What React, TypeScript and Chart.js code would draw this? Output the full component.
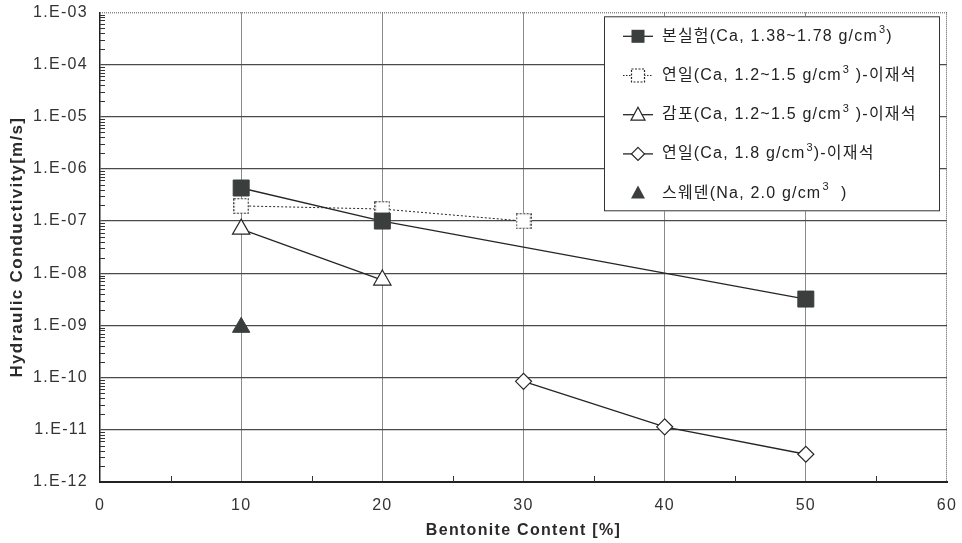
import React, { useEffect, useRef } from 'react';
import { Chart, registerables } from 'chart.js';

Chart.register(...registerables);

// ---- data ----
const xTickValues = [0, 10, 20, 30, 40, 50, 60];
const xMinorTicks = [5, 15, 25, 35, 45, 55];
const yDecades = [1e-12, 1e-11, 1e-10, 1e-9, 1e-8, 1e-7, 1e-6, 1e-5, 1e-4, 1e-3];
const yMinorMultipliers = [2, 3, 4, 5, 6, 7, 8, 9];

const s1X = [10, 20, 50];
const s1Y = [4.3e-7, 1.0e-7, 3.2e-9];
const s2X = [10, 20, 30];
const s2Y = [1.95e-7, 1.7e-7, 1.0e-7];
const s3X = [10, 20];
const s3Y = [7.0e-8, 7.4e-9];
const s4X = [30, 40, 50];
const s4Y = [8.5e-11, 1.14e-11, 3.4e-12];
const s5X = [10];
const s5Y = [9.2e-10];

const legendMain = [
  '본실험(Ca, 1.38~1.78 g/cm',
  '연일(Ca, 1.2~1.5 g/cm',
  '감포(Ca, 1.2~1.5 g/cm',
  '연일(Ca, 1.8 g/cm',
  '스웨덴(Na, 2.0 g/cm',
];
const legendSup = ['3', '3', '3', '3', '3'];
const legendTail = [')', ' )-이재석', ' )-이재석', ')-이재석', '  )'];

const xTitle = 'Bentonite Content [%]';
const yTitle = 'Hydraulic Conductivity[m/s]';

const INK = '#262626';
const FILL = '#3a3e3d';
const TICK_FONT_FAMILY = '"Liberation Sans", Arial, sans-serif';
const LEGEND_FONT = '"Liberation Sans", "Noto Sans CJK KR", sans-serif';
const SPACING = '1.3px';

const pts = (xs: number[], ys: number[]) => xs.map((x, i) => ({ x, y: ys[i] }));

function makeDashedSquare(size: number): HTMLCanvasElement {
  const c = document.createElement('canvas');
  c.width = size;
  c.height = size;
  const g = c.getContext('2d')!;
  g.fillStyle = '#ffffff';
  g.fillRect(0, 0, size, size);
  g.strokeStyle = INK;
  g.lineWidth = 1.2;
  g.setLineDash([2, 1.5]);
  g.strokeRect(0.75, 0.75, size - 1.5, size - 1.5);
  return c;
}

function drawMarker(ctx: CanvasRenderingContext2D, kind: number, cx: number, cy: number) {
  ctx.save();
  ctx.strokeStyle = INK;
  ctx.lineWidth = 1.2;
  if (kind === 0) {
    ctx.fillStyle = FILL;
    ctx.fillRect(cx - 6.5, cy - 6.5, 13, 13);
  } else if (kind === 1) {
    ctx.fillStyle = '#fff';
    ctx.fillRect(cx - 6.5, cy - 6.5, 13, 13);
    ctx.setLineDash([2, 1.5]);
    ctx.strokeRect(cx - 6.5, cy - 6.5, 13, 13);
  } else if (kind === 2 || kind === 4) {
    ctx.beginPath();
    ctx.moveTo(cx, cy - 7.5);
    ctx.lineTo(cx + 7, cy + 5.5);
    ctx.lineTo(cx - 7, cy + 5.5);
    ctx.closePath();
    ctx.fillStyle = kind === 4 ? FILL : '#fff';
    ctx.fill();
    if (kind === 2) ctx.stroke();
  } else if (kind === 3) {
    ctx.beginPath();
    ctx.moveTo(cx, cy - 6.5);
    ctx.lineTo(cx + 6.5, cy);
    ctx.lineTo(cx, cy + 6.5);
    ctx.lineTo(cx - 6.5, cy);
    ctx.closePath();
    ctx.fillStyle = '#fff';
    ctx.fill();
    ctx.stroke();
  }
  ctx.restore();
}

const spacingPlugin = {
  id: 'spacing',
  beforeLayout(chart: any) {
    (chart.ctx as any).letterSpacing = SPACING;
  },
  beforeDraw(chart: any) {
    (chart.ctx as any).letterSpacing = SPACING;
  },
};

const decorPlugin = {
  id: 'decor',
  beforeDatasetsDraw(chart: any) {
    const { ctx, chartArea: a, scales } = chart;
    const x = scales.x;
    const y = scales.y;
    ctx.save();
    ctx.strokeStyle = '#333';
    ctx.lineWidth = 1;
    ctx.beginPath();
    for (let i = 0; i < yDecades.length - 1; i++) {
      for (const k of yMinorMultipliers) {
        const py = Math.round(y.getPixelForValue(k * yDecades[i])) + 0.5;
        ctx.moveTo(a.left, py);
        ctx.lineTo(a.left + 5, py);
      }
    }
    for (const v of xMinorTicks) {
      const px = Math.round(x.getPixelForValue(v)) + 0.5;
      ctx.moveTo(px, a.bottom);
      ctx.lineTo(px, a.bottom - 6);
    }
    ctx.stroke();
    ctx.setLineDash([1, 1]);
    ctx.strokeStyle = '#555';
    ctx.beginPath();
    ctx.moveTo(a.left, a.top + 0.5);
    ctx.lineTo(a.right, a.top + 0.5);
    ctx.moveTo(a.right - 0.5, a.top);
    ctx.lineTo(a.right - 0.5, a.bottom);
    ctx.stroke();
    ctx.restore();
  },
  afterDraw(chart: any) {
    const { ctx, chartArea: a } = chart;
    const box = { left: a.left + 504, top: a.top + 4, right: a.right - 7, bottom: a.top + 199 };
    ctx.save();
    (ctx as any).letterSpacing = '1.2px';
    ctx.fillStyle = '#fff';
    ctx.fillRect(box.left, box.top, box.right - box.left, box.bottom - box.top);
    ctx.strokeStyle = '#333';
    ctx.lineWidth = 1;
    ctx.strokeRect(box.left + 0.5, box.top + 0.5, box.right - box.left - 1, box.bottom - box.top - 1);
    const lineX0 = box.left + 19;
    const lineX1 = box.left + 49;
    const textX = box.left + 58;
    for (let i = 0; i < legendMain.length; i++) {
      const cy = box.top + 20 + i * 39.2;
      if (i < 4) {
        ctx.save();
        ctx.strokeStyle = INK;
        ctx.lineWidth = i === 1 ? 1 : 1.3;
        if (i === 1) ctx.setLineDash([1.5, 1.5]);
        ctx.beginPath();
        ctx.moveTo(lineX0, cy);
        ctx.lineTo(lineX1, cy);
        ctx.stroke();
        ctx.restore();
      }
      drawMarker(ctx, i, (lineX0 + lineX1) / 2, cy);
      ctx.fillStyle = '#222';
      ctx.textBaseline = 'middle';
      ctx.textAlign = 'left';
      ctx.font = `16px ${LEGEND_FONT}`;
      let tx = textX;
      ctx.fillText(legendMain[i], tx, cy);
      tx += ctx.measureText(legendMain[i]).width + 1;
      ctx.font = `11px ${LEGEND_FONT}`;
      ctx.fillText(legendSup[i], tx, cy - 6);
      tx += ctx.measureText(legendSup[i]).width;
      ctx.font = `16px ${LEGEND_FONT}`;
      ctx.fillText(legendTail[i], tx, cy);
    }
    ctx.restore();
  },
};

export default function App() {
  const ref = useRef<HTMLCanvasElement | null>(null);

  useEffect(() => {
    document.body.style.margin = '0';
    const canvas = ref.current;
    if (!canvas) return;
    const dashedSquare = makeDashedSquare(16);

    const chart = new Chart(canvas, {
      type: 'line',
      data: {
        datasets: [
          {
            label: legendMain[0],
            data: pts(s1X, s1Y),
            borderColor: INK,
            borderWidth: 1.3,
            pointStyle: 'rect',
            pointRadius: 11.3,
            pointBackgroundColor: FILL,
            pointBorderColor: FILL,
            pointBorderWidth: 1,
            showLine: true,
          },
          {
            label: legendMain[1],
            data: pts(s2X, s2Y),
            borderColor: INK,
            borderWidth: 1,
            borderDash: [2, 2],
            pointStyle: dashedSquare as any,
            pointRadius: 8,
            showLine: true,
          },
          {
            label: legendMain[2],
            data: pts(s3X, s3Y),
            borderColor: INK,
            borderWidth: 1.3,
            pointStyle: 'triangle',
            pointRadius: 10,
            pointBackgroundColor: '#fff',
            pointBorderColor: INK,
            pointBorderWidth: 1.2,
            showLine: true,
          },
          {
            label: legendMain[3],
            data: pts(s4X, s4Y),
            borderColor: INK,
            borderWidth: 1.3,
            pointStyle: 'rectRot',
            pointRadius: 8,
            pointBackgroundColor: '#fff',
            pointBorderColor: INK,
            pointBorderWidth: 1.2,
            showLine: true,
          },
          {
            label: legendMain[4],
            data: pts(s5X, s5Y),
            borderColor: FILL,
            pointStyle: 'triangle',
            pointRadius: 10,
            pointBackgroundColor: FILL,
            pointBorderColor: FILL,
            pointBorderWidth: 1,
            showLine: false,
          },
        ],
      },
      options: {
        animation: false,
        responsive: false,
        maintainAspectRatio: false,
        layout: { padding: { top: 12, right: 15, left: 0, bottom: 0 } },
        plugins: {
          legend: { display: false },
          tooltip: { enabled: false },
        },
        scales: {
          x: {
            type: 'linear',
            min: 0,
            max: 60,
            afterFit: (s: any) => {
              s.height = 61;
              s.paddingLeft = 0;
              s.paddingRight = 0;
            },
            afterBuildTicks: (s: any) => {
              s.ticks = xTickValues.map((v) => ({ value: v }));
            },
            ticks: {
              color: '#333',
              padding: 14,
              font: { family: TICK_FONT_FAMILY, size: 16 },
              maxRotation: 0,
              autoSkip: false,
            },
            grid: {
              drawTicks: false,
              color: (c: any) =>
                c.tick && (c.tick.value === 0 || c.tick.value === 60) ? 'rgba(0,0,0,0)' : '#8a8a8a',
              lineWidth: 1,
            },
            border: { display: true, color: '#222', width: 2 },
            title: {
              display: true,
              text: xTitle,
              color: '#2a2a2a',
              font: { family: TICK_FONT_FAMILY, size: 16, weight: 'bold' },
              padding: { top: 0, bottom: 3 },
            },
          },
          y: {
            type: 'logarithmic',
            min: 1e-12,
            max: 1e-3,
            afterFit: (s: any) => {
              s.width = 100;
              s.paddingTop = 0;
              s.paddingBottom = 0;
            },
            afterBuildTicks: (s: any) => {
              s.ticks = yDecades.map((v) => ({ value: v, major: true }));
            },
            ticks: {
              color: '#333',
              padding: 12,
              autoSkip: false,
              font: { family: TICK_FONT_FAMILY, size: 16 },
              callback: (v: any) => {
                const e = Math.round(Math.log10(Number(v)));
                return `1.E-${String(-e).padStart(2, '0')}`;
              },
            },
            grid: {
              drawTicks: false,
              color: (c: any) =>
                c.tick && c.tick.value > 5e-4 ? 'rgba(0,0,0,0)' : '#4a4a4a',
              lineWidth: 1.2,
            },
            border: { display: true, color: '#222', width: 1.5 },
            title: {
              display: true,
              text: yTitle,
              color: '#2a2a2a',
              font: { family: TICK_FONT_FAMILY, size: 17, weight: 'bold' },
              padding: { top: 7, bottom: 0 },
            },
          },
        },
      },
      plugins: [spacingPlugin, decorPlugin],
    });

    return () => chart.destroy();
  }, []);

  return (
    <div style={{ width: 962, height: 543, background: '#fff' }}>
      <canvas ref={ref} width={962} height={543} style={{ display: 'block', width: 962, height: 543 }} />
    </div>
  );
}
